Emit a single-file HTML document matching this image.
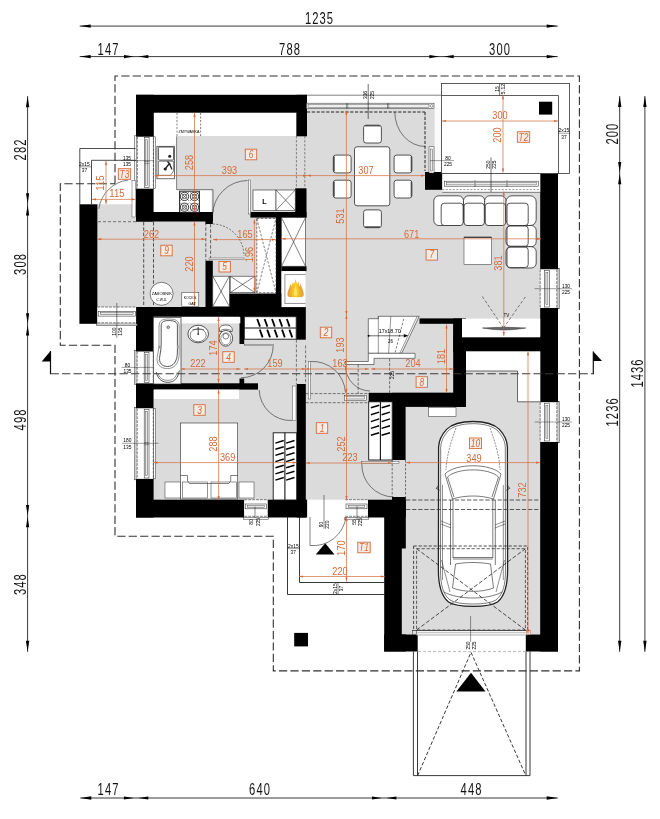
<!DOCTYPE html>
<html><head><meta charset="utf-8"><title>Floor plan</title>
<style>
html,body{margin:0;padding:0;background:#fff;}
body{width:660px;height:819px;overflow:hidden;font-family:"Liberation Sans",sans-serif;}
svg{display:block;will-change:transform;}
svg text{font-family:"Liberation Sans",sans-serif;}
</style></head><body>
<svg width="660" height="819" viewBox="0 0 660 819">
<rect x="0" y="0" width="660" height="819" fill="#fff"/>
<rect x="153.0" y="112.7" width="154.0" height="100.3" fill="#dbdbdb" />
<rect x="305.0" y="108.6" width="236.0" height="408.4" fill="#dbdbdb" />
<rect x="401.8" y="500.0" width="139.2" height="134.5" fill="#dbdbdb" />
<rect x="97.4" y="204.3" width="209.6" height="103.7" fill="#dbdbdb" />
<rect x="152.0" y="316.0" width="153.0" height="68.0" fill="#dbdbdb" />
<rect x="152.0" y="389.0" width="145.0" height="112.0" fill="#dbdbdb" />
<rect x="258.0" y="383.0" width="39.0" height="7.0" fill="#dbdbdb" />
<rect x="153.0" y="113.0" width="143.0" height="23.0" fill="#fff" />
<rect x="153.0" y="136.0" width="24.0" height="77.0" fill="#fff" />
<rect x="177.0" y="190.0" width="34.5" height="23.0" fill="#fff" />
<rect x="136.0" y="94.8" width="171.0" height="17.9" fill="#000" />
<rect x="296.4" y="94.8" width="10.6" height="41.5" fill="#000" />
<rect x="136.0" y="94.8" width="17.8" height="42.1" fill="#000" />
<rect x="136.0" y="188.5" width="17.6" height="33.0" fill="#000" />
<rect x="136.0" y="212.0" width="77.0" height="9.5" fill="#000" />
<rect x="250.4" y="212.0" width="56.1" height="5.6" fill="#000" />
<rect x="295.2" y="188.3" width="11.3" height="29.3" fill="#000" />
<rect x="79.4" y="204.3" width="18.0" height="119.5" fill="#000" />
<rect x="136.0" y="307.0" width="168.5" height="9.7" fill="#000" />
<rect x="136.0" y="307.0" width="17.3" height="45.0" fill="#000" />
<rect x="136.0" y="383.3" width="17.5" height="25.2" fill="#000" />
<rect x="136.0" y="478.4" width="17.6" height="39.1" fill="#000" />
<rect x="136.0" y="499.7" width="108.2" height="17.8" fill="#000" />
<rect x="267.6" y="499.7" width="39.7" height="17.8" fill="#000" />
<rect x="367.9" y="499.7" width="37.9" height="17.8" fill="#000" />
<rect x="296.7" y="384.0" width="9.1" height="133.5" fill="#000" />
<rect x="136.0" y="383.3" width="122.0" height="6.3" fill="#000" />
<rect x="239.5" y="316.0" width="4.7" height="28.0" fill="#000" />
<rect x="239.5" y="378.5" width="4.7" height="5.5" fill="#000" />
<rect x="296.2" y="306.7" width="9.6" height="33.0" fill="#000" />
<rect x="384.2" y="517.0" width="21.6" height="134.5" fill="#000" />
<rect x="392.3" y="392.8" width="13.3" height="67.2" fill="#000" />
<rect x="392.0" y="497.0" width="13.8" height="20.0" fill="#000" />
<rect x="368.7" y="392.8" width="97.3" height="9.4" fill="#000" />
<rect x="405.0" y="392.8" width="61.0" height="14.1" fill="#000" />
<rect x="453.2" y="318.5" width="12.8" height="88.4" fill="#000" />
<rect x="419.5" y="318.4" width="46.5" height="5.4" fill="#000" />
<rect x="453.5" y="336.4" width="104.5" height="15.1" fill="#000" />
<rect x="453.5" y="319.0" width="8.9" height="32.5" fill="#000" />
<rect x="540.2" y="173.2" width="17.8" height="96.3" fill="#000" />
<rect x="540.2" y="307.8" width="17.8" height="94.6" fill="#000" />
<rect x="540.2" y="441.8" width="17.8" height="209.7" fill="#000" />
<rect x="401.8" y="548.5" width="4.7" height="86.0" fill="#dbdbdb" />
<rect x="384.2" y="634.5" width="33.5" height="17.0" fill="#000" />
<rect x="525.8" y="634.5" width="32.2" height="17.0" fill="#000" />
<rect x="425.0" y="172.0" width="17.4" height="17.8" fill="#000" />
<rect x="276.0" y="212.0" width="5.5" height="84.4" fill="#000" />
<rect x="281.5" y="266.2" width="25.0" height="5.0" fill="#000" />
<rect x="229.3" y="293.6" width="54.9" height="13.8" fill="#000" />
<rect x="205.5" y="260.7" width="7.3" height="46.7" fill="#000" />
<rect x="205.5" y="212.0" width="7.3" height="12.0" fill="#000" />
<rect x="539.0" y="101.7" width="13.2" height="12.9" fill="#000" />
<rect x="294.2" y="632.9" width="13.8" height="13.5" fill="#000" />
<rect x="462.0" y="318.6" width="78.2" height="18.7" fill="#fff" />
<rect x="136.2" y="136.8" width="17.2" height="51.6" fill="#fff" />
<rect x="134.5" y="135.8" width="1.7" height="53.6" fill="#fff" stroke="#2c2c2c" stroke-width="0.5" />
<rect x="153.4" y="136.8" width="2.2" height="51.6" fill="#fff" stroke="#2c2c2c" stroke-width="0.5" />
<line x1="137.4" y1="136.8" x2="137.4" y2="188.4" stroke="#2c2c2c" stroke-width="0.6" stroke-dasharray="2.8,1.1"/>
<line x1="153.4" y1="136.8" x2="153.4" y2="188.4" stroke="#2c2c2c" stroke-width="0.6" stroke-dasharray="2.8,1.1"/>
<rect x="144.3" y="137.6" width="4.8" height="50.0" fill="#fff" stroke="#2c2c2c" stroke-width="0.55" />
<rect x="145.7" y="139.8" width="2.0" height="45.6" fill="#e8e8e8" stroke="#2c2c2c" stroke-width="0.4" />
<line x1="144.3" y1="161.6" x2="149.1" y2="161.6" stroke="#2c2c2c" stroke-width="0.4"/>
<line x1="144.3" y1="163.6" x2="149.1" y2="163.6" stroke="#2c2c2c" stroke-width="0.4"/>
<rect x="136.0" y="351.5" width="17.3" height="31.8" fill="#fff" />
<rect x="134.3" y="350.5" width="1.7" height="33.8" fill="#fff" stroke="#2c2c2c" stroke-width="0.5" />
<rect x="153.3" y="351.5" width="2.2" height="31.8" fill="#fff" stroke="#2c2c2c" stroke-width="0.5" />
<line x1="137.2" y1="351.5" x2="137.2" y2="383.3" stroke="#2c2c2c" stroke-width="0.6" stroke-dasharray="2.8,1.1"/>
<line x1="153.3" y1="351.5" x2="153.3" y2="383.3" stroke="#2c2c2c" stroke-width="0.6" stroke-dasharray="2.8,1.1"/>
<rect x="144.2" y="352.3" width="4.8" height="30.2" fill="#fff" stroke="#2c2c2c" stroke-width="0.55" />
<rect x="145.6" y="354.5" width="2.0" height="25.8" fill="#e8e8e8" stroke="#2c2c2c" stroke-width="0.4" />
<rect x="136.0" y="408.5" width="17.3" height="70.3" fill="#fff" />
<rect x="134.3" y="407.5" width="1.7" height="72.3" fill="#fff" stroke="#2c2c2c" stroke-width="0.5" />
<rect x="153.3" y="408.5" width="2.2" height="70.3" fill="#fff" stroke="#2c2c2c" stroke-width="0.5" />
<line x1="137.2" y1="408.5" x2="137.2" y2="478.8" stroke="#2c2c2c" stroke-width="0.6" stroke-dasharray="2.8,1.1"/>
<line x1="153.3" y1="408.5" x2="153.3" y2="478.8" stroke="#2c2c2c" stroke-width="0.6" stroke-dasharray="2.8,1.1"/>
<rect x="144.2" y="409.3" width="4.8" height="68.7" fill="#fff" stroke="#2c2c2c" stroke-width="0.55" />
<rect x="145.6" y="411.5" width="2.0" height="64.3" fill="#e8e8e8" stroke="#2c2c2c" stroke-width="0.4" />
<line x1="144.2" y1="442.6" x2="149.0" y2="442.6" stroke="#2c2c2c" stroke-width="0.4"/>
<line x1="144.2" y1="444.6" x2="149.0" y2="444.6" stroke="#2c2c2c" stroke-width="0.4"/>
<rect x="540.2" y="269.5" width="17.8" height="38.3" fill="#fff" />
<rect x="558.0" y="268.5" width="1.7" height="40.3" fill="#fff" stroke="#2c2c2c" stroke-width="0.5" />
<line x1="556.8" y1="269.5" x2="556.8" y2="307.8" stroke="#2c2c2c" stroke-width="0.6" stroke-dasharray="2.8,1.1"/>
<line x1="540.2" y1="269.5" x2="540.2" y2="307.8" stroke="#2c2c2c" stroke-width="0.6" stroke-dasharray="2.8,1.1"/>
<rect x="544.5" y="270.3" width="4.8" height="36.7" fill="#fff" stroke="#2c2c2c" stroke-width="0.55" />
<rect x="545.9" y="272.5" width="2.0" height="32.3" fill="#e8e8e8" stroke="#2c2c2c" stroke-width="0.4" />
<rect x="540.2" y="402.4" width="17.8" height="39.4" fill="#fff" />
<rect x="558.0" y="401.4" width="1.7" height="41.4" fill="#fff" stroke="#2c2c2c" stroke-width="0.5" />
<line x1="556.8" y1="402.4" x2="556.8" y2="441.8" stroke="#2c2c2c" stroke-width="0.6" stroke-dasharray="2.8,1.1"/>
<line x1="540.2" y1="402.4" x2="540.2" y2="441.8" stroke="#2c2c2c" stroke-width="0.6" stroke-dasharray="2.8,1.1"/>
<rect x="544.5" y="403.2" width="4.8" height="37.8" fill="#fff" stroke="#2c2c2c" stroke-width="0.55" />
<rect x="545.9" y="405.4" width="2.0" height="33.4" fill="#e8e8e8" stroke="#2c2c2c" stroke-width="0.4" />
<rect x="97.4" y="307.0" width="38.7" height="17.0" fill="#fff" />
<rect x="96.4" y="324.0" width="40.7" height="1.7" fill="#fff" stroke="#2c2c2c" stroke-width="0.5" />
<line x1="97.4" y1="322.8" x2="136.1" y2="322.8" stroke="#2c2c2c" stroke-width="0.6" stroke-dasharray="2.8,1.1"/>
<line x1="97.4" y1="307.0" x2="136.1" y2="307.0" stroke="#2c2c2c" stroke-width="0.6" stroke-dasharray="2.8,1.1"/>
<rect x="98.2" y="311.3" width="37.1" height="4.8" fill="#fff" stroke="#2c2c2c" stroke-width="0.55" />
<rect x="100.4" y="312.7" width="32.7" height="2.0" fill="#e8e8e8" stroke="#2c2c2c" stroke-width="0.4" />
<rect x="244.4" y="499.7" width="23.0" height="17.8" fill="#fff" />
<rect x="243.4" y="517.5" width="25.0" height="1.7" fill="#fff" stroke="#2c2c2c" stroke-width="0.5" />
<line x1="244.4" y1="516.3" x2="267.4" y2="516.3" stroke="#2c2c2c" stroke-width="0.6" stroke-dasharray="2.8,1.1"/>
<line x1="244.4" y1="499.7" x2="267.4" y2="499.7" stroke="#2c2c2c" stroke-width="0.6" stroke-dasharray="2.8,1.1"/>
<rect x="245.2" y="504.0" width="21.4" height="4.8" fill="#fff" stroke="#2c2c2c" stroke-width="0.55" />
<rect x="247.4" y="505.4" width="17.0" height="2.0" fill="#e8e8e8" stroke="#2c2c2c" stroke-width="0.4" />
<rect x="345.2" y="499.7" width="22.6" height="17.8" fill="#fff" />
<rect x="344.2" y="517.5" width="24.6" height="1.7" fill="#fff" stroke="#2c2c2c" stroke-width="0.5" />
<line x1="345.2" y1="516.3" x2="367.8" y2="516.3" stroke="#2c2c2c" stroke-width="0.6" stroke-dasharray="2.8,1.1"/>
<line x1="345.2" y1="499.7" x2="367.8" y2="499.7" stroke="#2c2c2c" stroke-width="0.6" stroke-dasharray="2.8,1.1"/>
<rect x="346.0" y="504.0" width="21.0" height="4.8" fill="#fff" stroke="#2c2c2c" stroke-width="0.55" />
<rect x="348.2" y="505.4" width="16.6" height="2.0" fill="#e8e8e8" stroke="#2c2c2c" stroke-width="0.4" />
<rect x="307.0" y="95.2" width="135.0" height="13.4" fill="#fff" />
<line x1="307.0" y1="95.2" x2="442.0" y2="95.2" stroke="#2c2c2c" stroke-width="0.6"/>
<rect x="306.4" y="103.2" width="127.6" height="5.4" fill="#fff" stroke="#2c2c2c" stroke-width="0.55" />
<rect x="308.0" y="104.6" width="121.0" height="2.6" fill="#eee" stroke="#2c2c2c" stroke-width="0.4" />
<line x1="346.6" y1="103.2" x2="346.6" y2="108.6" stroke="#2c2c2c" stroke-width="0.5"/>
<line x1="387.5" y1="103.2" x2="387.5" y2="108.6" stroke="#2c2c2c" stroke-width="0.5"/>
<line x1="347.8" y1="103.2" x2="347.8" y2="108.6" stroke="#2c2c2c" stroke-width="0.4"/>
<line x1="388.7" y1="103.2" x2="388.7" y2="108.6" stroke="#2c2c2c" stroke-width="0.4"/>
<circle cx="431.6" cy="105.9" r="1.4" fill="#fff" stroke="#2c2c2c" stroke-width="0.5"/>
<rect x="442.3" y="171.4" width="97.9" height="20.9" fill="#fff" />
<line x1="442.3" y1="171.4" x2="541.8" y2="171.4" stroke="#2c2c2c" stroke-width="0.6"/>
<line x1="442.3" y1="192.3" x2="540.2" y2="192.3" stroke="#2c2c2c" stroke-width="0.6"/>
<line x1="442.3" y1="173.4" x2="540.2" y2="173.4" stroke="#2c2c2c" stroke-width="0.5" stroke-dasharray="2,1.5"/>
<line x1="442.3" y1="189.6" x2="540.2" y2="189.6" stroke="#2c2c2c" stroke-width="0.5" stroke-dasharray="2,1.5"/>
<rect x="444.4" y="181.2" width="94.0" height="5.0" fill="#fff" stroke="#2c2c2c" stroke-width="0.55" />
<rect x="446.5" y="182.5" width="89.9" height="2.4" fill="#eee" stroke="#2c2c2c" stroke-width="0.4" />
<rect x="474.2" y="181.0" width="1.6" height="5.2" fill="#fff" stroke="#2c2c2c" stroke-width="0.4" />
<rect x="506.2" y="181.0" width="1.6" height="5.2" fill="#fff" stroke="#2c2c2c" stroke-width="0.4" />
<rect x="434.6" y="108.6" width="7.2" height="63.4" fill="#fbfbfb" />
<rect x="429.0" y="146.8" width="5.0" height="26.2" fill="#fff" stroke="#2c2c2c" stroke-width="0.5" />
<rect x="430.6" y="149.0" width="2.0" height="22.0" fill="#eee" stroke="#2c2c2c" stroke-width="0.4" />
<rect x="307.3" y="499.7" width="37.9" height="17.8" fill="#fff" />
<rect x="441.5" y="83.5" width="128.0" height="90.0" fill="#fff" stroke="#333" stroke-width="0.8" />
<path d="M441.5,95.5 H558.5 V173.5" fill="none" stroke="#333" stroke-width="0.8"/>
<rect x="539.0" y="101.7" width="13.2" height="12.9" fill="#000" />
<path d="M135.5,148.5 H79.8 V204.5" fill="none" stroke="#222" stroke-width="0.8"/>
<path d="M136,160.3 H91.5 V204.5" fill="none" stroke="#222" stroke-width="0.8"/>
<path d="M287.5,517 V594.5 H384.8" fill="none" stroke="#222" stroke-width="0.9"/>
<path d="M299.5,517 V582.5 H384.8" fill="none" stroke="#222" stroke-width="0.9"/>
<line x1="413.4" y1="651.5" x2="413.4" y2="775.6" stroke="#222" stroke-width="0.9"/>
<line x1="417.5" y1="651.5" x2="417.5" y2="775.6" stroke="#222" stroke-width="0.9"/>
<line x1="526.0" y1="651.5" x2="526.0" y2="775.6" stroke="#222" stroke-width="0.9"/>
<line x1="530.0" y1="651.5" x2="530.0" y2="775.6" stroke="#222" stroke-width="0.9"/>
<line x1="413.3" y1="775.6" x2="530.0" y2="775.6" stroke="#222" stroke-width="0.9"/>
<path d="M417.6,775.6 L471,652.3 L525.8,775.6" fill="none" stroke="#222" stroke-width="0.9" stroke-dasharray="3.6,2"/>
<line x1="418.0" y1="651.6" x2="525.6" y2="651.6" stroke="#888" stroke-width="0.6" stroke-dasharray="3,2"/>
<polygon points="456.4,691.6 485.5,691.6 471,672.7" fill="#000"/>
<polygon points="315.8,554.5 334.5,554.5 325.2,543.3" fill="#000"/>
<rect x="354.5" y="146.8" width="35.3" height="59.0" rx="2.5" fill="#fff" stroke="#2c2c2c" stroke-width="0.8"/>
<rect x="363.6" y="125.2" width="17.8" height="17.8" rx="2.5" fill="#fff" stroke="#2c2c2c" stroke-width="0.8"/>
<line x1="365.1" y1="125.8" x2="379.9" y2="125.8" stroke="#444" stroke-width="1.2"/>
<rect x="363.6" y="209.9" width="17.8" height="17.8" rx="2.5" fill="#fff" stroke="#2c2c2c" stroke-width="0.8"/>
<line x1="365.1" y1="227.1" x2="379.9" y2="227.1" stroke="#444" stroke-width="1.6"/>
<rect x="333.3" y="155.1" width="17.8" height="17.8" rx="2.5" fill="#fff" stroke="#2c2c2c" stroke-width="0.8"/>
<line x1="333.9" y1="156.6" x2="333.9" y2="171.4" stroke="#444" stroke-width="1.6"/>
<rect x="333.3" y="180.2" width="17.8" height="17.8" rx="2.5" fill="#fff" stroke="#2c2c2c" stroke-width="0.8"/>
<line x1="333.9" y1="181.7" x2="333.9" y2="196.5" stroke="#444" stroke-width="1.6"/>
<rect x="394.1" y="155.1" width="17.8" height="17.8" rx="2.5" fill="#fff" stroke="#2c2c2c" stroke-width="0.8"/>
<line x1="411.3" y1="156.6" x2="411.3" y2="171.4" stroke="#444" stroke-width="1.2"/>
<rect x="394.1" y="180.2" width="17.8" height="17.8" rx="2.5" fill="#fff" stroke="#2c2c2c" stroke-width="0.8"/>
<line x1="411.3" y1="181.7" x2="411.3" y2="196.5" stroke="#444" stroke-width="1.2"/>
<rect x="433.8" y="195.8" width="29.7" height="29.7" rx="5" fill="#fff" stroke="#2c2c2c" stroke-width="0.8"/>
<rect x="441.2" y="203.2" width="21.9" height="22.3" rx="3" fill="#fff" stroke="#2c2c2c" stroke-width="0.8"/>
<rect x="463.5" y="195.8" width="21.2" height="29.7" rx="5" fill="#fff" stroke="#2c2c2c" stroke-width="0.8"/>
<rect x="464.1" y="203.2" width="20.2" height="22.3" rx="3" fill="#fff" stroke="#2c2c2c" stroke-width="0.8"/>
<rect x="484.7" y="195.8" width="21.3" height="29.7" rx="5" fill="#fff" stroke="#2c2c2c" stroke-width="0.8"/>
<rect x="485.3" y="203.2" width="20.3" height="22.3" rx="3" fill="#fff" stroke="#2c2c2c" stroke-width="0.8"/>
<rect x="506.0" y="195.8" width="30.2" height="29.7" rx="6" fill="#fff" stroke="#2c2c2c" stroke-width="0.8"/>
<rect x="507.0" y="203.2" width="21.2" height="22.3" rx="3" fill="#fff" stroke="#2c2c2c" stroke-width="0.8"/>
<rect x="506.0" y="225.5" width="30.2" height="21.2" rx="5" fill="#fff" stroke="#2c2c2c" stroke-width="0.8"/>
<rect x="507.0" y="226.0" width="21.2" height="20.2" rx="3" fill="#fff" stroke="#2c2c2c" stroke-width="0.8"/>
<rect x="506.0" y="246.7" width="30.2" height="21.3" rx="5" fill="#fff" stroke="#2c2c2c" stroke-width="0.8"/>
<rect x="507.0" y="247.2" width="21.2" height="20.3" rx="3" fill="#fff" stroke="#2c2c2c" stroke-width="0.8"/>
<rect x="464.0" y="237.0" width="27.5" height="27.3" fill="#fff" stroke="#2c2c2c" stroke-width="0.5" />
<line x1="464.0" y1="237.4" x2="491.5" y2="237.4" stroke="#222" stroke-width="0.9"/>
<rect x="154.0" y="389.6" width="85.0" height="9.4" fill="#fff" />
<rect x="165.0" y="482.0" width="15.5" height="16.0" fill="#fff" stroke="#2c2c2c" stroke-width="0.5" />
<rect x="239.0" y="482.0" width="15.0" height="16.0" fill="#fff" stroke="#2c2c2c" stroke-width="0.5" />
<rect x="180.5" y="423.0" width="57.2" height="76.0" fill="#fff" stroke="#2c2c2c" stroke-width="0.6" />
<rect x="182.4" y="482.0" width="25.3" height="16.0" fill="#fff" stroke="#2c2c2c" stroke-width="0.5" />
<rect x="211.0" y="482.0" width="25.4" height="16.0" fill="#fff" stroke="#2c2c2c" stroke-width="0.5" />
<path d="M180.5,475.5 H187.5 V481 L189.5,483.5 H228.7 L230.7,481 V475.5 H237.7" fill="none" stroke="#2c2c2c" stroke-width="0.6"/>
<rect x="181.0" y="317.0" width="59.3" height="6.4" fill="#fff" />
<rect x="153.3" y="317.3" width="27.7" height="66.7" fill="#fff" stroke="#2c2c2c" stroke-width="0.7" />
<path d="M161.2,326 C161.2,321.5 164,320.6 168.5,320.6 C174,320.6 177.4,321.5 177.4,326 L177.4,352 C177.4,362 173,366.5 167.5,366.5 C162,366.5 158.5,363 159.8,356 C160.6,352 161.2,348 161.2,344 Z" fill="#fff" stroke="#2c2c2c" stroke-width="0.8"/>
<path d="M159,327 C159,320.5 162,319 168.5,319 C176,319 179.2,320.5 179.2,327 L179.2,353 C179.2,364 174,368.6 167.5,368.6 C160,368.6 155.8,364 157.3,356 C158.3,352 159,348 159,344 Z" fill="none" stroke="#2c2c2c" stroke-width="0.5"/>
<path d="M156.2,372 C158,380 163,382.3 168,382.3 C173.5,382.3 178,379 179.3,370.5" fill="none" stroke="#2c2c2c" stroke-width="0.8"/>
<path d="M158.2,374 C160,379 164,380.3 168,380.3 C172.5,380.3 176,378 177.3,372" fill="none" stroke="#2c2c2c" stroke-width="0.5"/>
<circle cx="168.2" cy="327.2" r="1.3" fill="#ccc" stroke="#2c2c2c" stroke-width="0.6"/>
<rect x="158.6" y="345.5" width="1.8" height="3.0" fill="#999" />
<rect x="177.0" y="345.5" width="1.8" height="3.0" fill="#999" />
<ellipse cx="198.2" cy="334" rx="10.3" ry="8.8" fill="#fff" stroke="#2c2c2c" stroke-width="0.8"/>
<ellipse cx="198.2" cy="335.2" rx="8" ry="6.5" fill="#fff" stroke="#2c2c2c" stroke-width="0.6"/>
<path d="M198.2,327 V333" fill="none" stroke="#2c2c2c" stroke-width="0.9"/>
<circle cx="198.2" cy="334" r="0.9" fill="#2c2c2c"/>
<path d="M192.5,329.5 H204" fill="none" stroke="#2c2c2c" stroke-width="0.5"/>
<path d="M219.4,331.5 C219,327 221,325 225.8,325 C230.6,325 232.6,327 232.2,331.5 Z" fill="#fff" stroke="#2c2c2c" stroke-width="0.7"/>
<ellipse cx="225.8" cy="338.3" rx="6.8" ry="7.9" fill="#fff" stroke="#2c2c2c" stroke-width="0.8"/>
<ellipse cx="225.8" cy="338.8" rx="5" ry="6" fill="#fff" stroke="#2c2c2c" stroke-width="0.5"/>
<circle cx="225.8" cy="336.2" r="2.8" fill="#fff" stroke="#2c2c2c" stroke-width="0.6"/>
<path d="M220.5,330.5 C223,328.8 228.5,328.8 231,330.5" fill="none" stroke="#2c2c2c" stroke-width="0.6"/>
<rect x="273.2" y="432.8" width="23.5" height="67.2" fill="#fff" stroke="#111" stroke-width="0.9" />
<line x1="284.9" y1="432.8" x2="284.9" y2="500.0" stroke="#111" stroke-width="1.1"/>
<line x1="275.4" y1="443.1" x2="283.8" y2="440.5" stroke="#000" stroke-width="1.5"/>
<line x1="286.1" y1="443.1" x2="294.5" y2="440.5" stroke="#000" stroke-width="1.5"/>
<line x1="275.4" y1="449.3" x2="283.8" y2="446.7" stroke="#000" stroke-width="1.5"/>
<line x1="286.1" y1="449.3" x2="294.5" y2="446.7" stroke="#000" stroke-width="1.5"/>
<line x1="275.4" y1="455.4" x2="283.8" y2="452.8" stroke="#000" stroke-width="1.5"/>
<line x1="286.1" y1="455.4" x2="294.5" y2="452.8" stroke="#000" stroke-width="1.5"/>
<line x1="275.4" y1="461.6" x2="283.8" y2="459.0" stroke="#000" stroke-width="1.5"/>
<line x1="286.1" y1="461.6" x2="294.5" y2="459.0" stroke="#000" stroke-width="1.5"/>
<line x1="275.4" y1="467.8" x2="283.8" y2="465.2" stroke="#000" stroke-width="1.5"/>
<line x1="286.1" y1="467.8" x2="294.5" y2="465.2" stroke="#000" stroke-width="1.5"/>
<line x1="275.4" y1="473.9" x2="283.8" y2="471.3" stroke="#000" stroke-width="1.5"/>
<line x1="286.1" y1="473.9" x2="294.5" y2="471.3" stroke="#000" stroke-width="1.5"/>
<line x1="275.4" y1="480.1" x2="283.8" y2="477.5" stroke="#000" stroke-width="1.5"/>
<line x1="286.1" y1="480.1" x2="294.5" y2="477.5" stroke="#000" stroke-width="1.5"/>
<rect x="368.7" y="401.8" width="23.5" height="58.2" fill="#fff" stroke="#111" stroke-width="0.9" />
<line x1="380.4" y1="401.8" x2="380.4" y2="460.0" stroke="#111" stroke-width="1.1"/>
<line x1="370.9" y1="407.8" x2="379.2" y2="405.2" stroke="#000" stroke-width="1.5"/>
<line x1="381.6" y1="407.8" x2="390.0" y2="405.2" stroke="#000" stroke-width="1.5"/>
<line x1="370.9" y1="414.7" x2="379.2" y2="412.1" stroke="#000" stroke-width="1.5"/>
<line x1="381.6" y1="414.7" x2="390.0" y2="412.1" stroke="#000" stroke-width="1.5"/>
<line x1="370.9" y1="421.6" x2="379.2" y2="418.9" stroke="#000" stroke-width="1.5"/>
<line x1="381.6" y1="421.6" x2="390.0" y2="418.9" stroke="#000" stroke-width="1.5"/>
<line x1="370.9" y1="428.4" x2="379.2" y2="425.8" stroke="#000" stroke-width="1.5"/>
<line x1="381.6" y1="428.4" x2="390.0" y2="425.8" stroke="#000" stroke-width="1.5"/>
<line x1="370.9" y1="435.3" x2="379.2" y2="432.7" stroke="#000" stroke-width="1.5"/>
<line x1="381.6" y1="435.3" x2="390.0" y2="432.7" stroke="#000" stroke-width="1.5"/>
<rect x="244.3" y="316.7" width="51.9" height="22.5" fill="#fff" stroke="#111" stroke-width="0.9" />
<line x1="244.3" y1="328.0" x2="296.2" y2="328.0" stroke="#111" stroke-width="1.0"/>
<line x1="257.2" y1="319.0" x2="260.0" y2="326.6" stroke="#000" stroke-width="1.8"/>
<line x1="259.8" y1="329.6" x2="262.6" y2="337.4" stroke="#000" stroke-width="1.8"/>
<line x1="264.6" y1="319.0" x2="267.4" y2="326.6" stroke="#000" stroke-width="1.8"/>
<line x1="267.2" y1="329.6" x2="270.0" y2="337.4" stroke="#000" stroke-width="1.8"/>
<line x1="272.0" y1="319.0" x2="274.8" y2="326.6" stroke="#000" stroke-width="1.8"/>
<line x1="274.6" y1="329.6" x2="277.4" y2="337.4" stroke="#000" stroke-width="1.8"/>
<line x1="279.4" y1="319.0" x2="282.2" y2="326.6" stroke="#000" stroke-width="1.8"/>
<line x1="282.0" y1="329.6" x2="284.8" y2="337.4" stroke="#000" stroke-width="1.8"/>
<line x1="286.8" y1="319.0" x2="289.6" y2="326.6" stroke="#000" stroke-width="1.8"/>
<line x1="289.4" y1="329.6" x2="292.2" y2="337.4" stroke="#000" stroke-width="1.8"/>
<line x1="296.4" y1="339.7" x2="296.4" y2="384.0" stroke="#2c2c2c" stroke-width="0.6" stroke-dasharray="3,1.8"/>
<line x1="305.6" y1="345.5" x2="305.6" y2="384.0" stroke="#2c2c2c" stroke-width="0.6" stroke-dasharray="3,1.8"/>
<line x1="176.6" y1="136.3" x2="176.6" y2="189.7" stroke="#2c2c2c" stroke-width="0.6"/>
<line x1="176.6" y1="189.7" x2="213.0" y2="189.7" stroke="#2c2c2c" stroke-width="0.6"/>
<line x1="213.0" y1="189.7" x2="213.0" y2="212.0" stroke="#2c2c2c" stroke-width="0.6"/>
<rect x="179.6" y="191.2" width="19.8" height="21.2" fill="#fff" stroke="#111" stroke-width="0.9" />
<circle cx="184.5" cy="196.4" r="4.1" fill="none" stroke="#111" stroke-width="0.8"/>
<circle cx="184.5" cy="196.4" r="2.2" fill="none" stroke="#111" stroke-width="0.6"/>
<line x1="180.0" y1="191.9" x2="189.0" y2="200.9" stroke="#111" stroke-width="0.5"/>
<line x1="180.0" y1="200.9" x2="189.0" y2="191.9" stroke="#111" stroke-width="0.5"/>
<circle cx="194.5" cy="196.4" r="4.1" fill="none" stroke="#111" stroke-width="0.8"/>
<circle cx="194.5" cy="196.4" r="2.2" fill="none" stroke="#111" stroke-width="0.6"/>
<line x1="190.0" y1="191.9" x2="199.0" y2="200.9" stroke="#111" stroke-width="0.5"/>
<line x1="190.0" y1="200.9" x2="199.0" y2="191.9" stroke="#111" stroke-width="0.5"/>
<circle cx="184.5" cy="207.2" r="4.1" fill="none" stroke="#111" stroke-width="0.8"/>
<circle cx="184.5" cy="207.2" r="2.2" fill="none" stroke="#111" stroke-width="0.6"/>
<line x1="180.0" y1="202.7" x2="189.0" y2="211.7" stroke="#111" stroke-width="0.5"/>
<line x1="180.0" y1="211.7" x2="189.0" y2="202.7" stroke="#111" stroke-width="0.5"/>
<circle cx="194.5" cy="207.2" r="4.1" fill="none" stroke="#111" stroke-width="0.8"/>
<circle cx="194.5" cy="207.2" r="2.2" fill="none" stroke="#111" stroke-width="0.6"/>
<line x1="190.0" y1="202.7" x2="199.0" y2="211.7" stroke="#111" stroke-width="0.5"/>
<line x1="190.0" y1="211.7" x2="199.0" y2="202.7" stroke="#111" stroke-width="0.5"/>
<rect x="156.9" y="146.3" width="17.7" height="32.5" fill="#fff" stroke="#2c2c2c" stroke-width="0.7" />
<rect x="158.4" y="147.0" width="15.2" height="13.1" rx="1.2" fill="#fff" stroke="#2c2c2c" stroke-width="0.8"/>
<path d="M158.4,161.2 H173.6 V171 L170.5,175.3 H158.4 Z" fill="#fff" stroke="#2c2c2c" stroke-width="0.6"/>
<circle cx="169.7" cy="156.2" r="1.5" fill="#222"/>
<circle cx="165.2" cy="169" r="1.6" fill="#222"/>
<path d="M165.2,169 L169.3,163.5 M169.3,163.5 L172,169.5 M167.5,161.5 L170.5,164.8" fill="none" stroke="#222" stroke-width="1.3"/>
<line x1="177.0" y1="113.0" x2="177.0" y2="136.0" stroke="#2c2c2c" stroke-width="0.6" stroke-dasharray="2,1.5"/>
<line x1="200.6" y1="113.0" x2="200.6" y2="136.0" stroke="#2c2c2c" stroke-width="0.6" stroke-dasharray="2,1.5"/>
<line x1="296.4" y1="136.0" x2="296.4" y2="188.3" stroke="#2c2c2c" stroke-width="0.5" stroke-dasharray="2.5,1.5"/>
<line x1="304.8" y1="136.0" x2="304.8" y2="188.3" stroke="#2c2c2c" stroke-width="0.5" stroke-dasharray="2.5,1.5"/>
<line x1="143.7" y1="222.0" x2="143.7" y2="306.5" stroke="#2c2c2c" stroke-width="0.8" stroke-dasharray="3.5,1.8"/>
<line x1="153.5" y1="222.0" x2="153.5" y2="306.5" stroke="#2c2c2c" stroke-width="0.8" stroke-dasharray="3.5,1.8"/>
<line x1="205.8" y1="222.0" x2="205.8" y2="260.5" stroke="#2c2c2c" stroke-width="0.7" stroke-dasharray="3.5,1.8"/>
<line x1="210.6" y1="224.0" x2="210.6" y2="258.0" stroke="#2c2c2c" stroke-width="0.7" stroke-dasharray="3.5,1.8"/>
<rect x="253.0" y="190.0" width="23.0" height="20.3" fill="#fff" stroke="#2c2c2c" stroke-width="0.6" />
<text x="264.3" y="204.0" font-size="7" fill="#000" text-anchor="middle" font-weight="bold">L</text>
<rect x="276.0" y="190.0" width="19.2" height="20.3" fill="#fff" stroke="#2c2c2c" stroke-width="0.6" />
<line x1="276.0" y1="190.0" x2="295.2" y2="210.3" stroke="#2c2c2c" stroke-width="0.6"/>
<line x1="276.0" y1="210.3" x2="295.2" y2="190.0" stroke="#2c2c2c" stroke-width="0.6"/>
<rect x="281.5" y="217.6" width="24.0" height="48.6" fill="#fff" stroke="#2c2c2c" stroke-width="0.6" />
<line x1="281.5" y1="217.6" x2="305.5" y2="266.2" stroke="#2c2c2c" stroke-width="0.6"/>
<line x1="281.5" y1="266.2" x2="305.5" y2="217.6" stroke="#2c2c2c" stroke-width="0.6"/>
<rect x="256.8" y="218.5" width="19.2" height="74.2" fill="#fff" stroke="#2c2c2c" stroke-width="0.6" stroke-dasharray="2.5,1.5"/>
<line x1="256.8" y1="218.5" x2="276.0" y2="292.7" stroke="#2c2c2c" stroke-width="0.6" stroke-dasharray="2.5,1.5"/>
<line x1="256.8" y1="292.7" x2="276.0" y2="218.5" stroke="#2c2c2c" stroke-width="0.6" stroke-dasharray="2.5,1.5"/>
<rect x="230.2" y="276.2" width="24.8" height="16.5" fill="#fff" stroke="#2c2c2c" stroke-width="0.6" />
<line x1="230.2" y1="276.2" x2="255.0" y2="292.7" stroke="#2c2c2c" stroke-width="0.6"/>
<line x1="230.2" y1="292.7" x2="255.0" y2="276.2" stroke="#2c2c2c" stroke-width="0.6"/>
<rect x="212.8" y="276.2" width="16.5" height="30.2" fill="#fff" stroke="#2c2c2c" stroke-width="0.6" />
<line x1="212.8" y1="276.2" x2="229.3" y2="306.4" stroke="#2c2c2c" stroke-width="0.6"/>
<line x1="212.8" y1="306.4" x2="229.3" y2="276.2" stroke="#2c2c2c" stroke-width="0.6"/>
<rect x="281.5" y="271.1" width="24.0" height="36.0" fill="#fff" />
<rect x="284.9" y="274.6" width="21.6" height="28.8" fill="#fff" stroke="#8a8a8a" stroke-width="0.9" />
<rect x="305.5" y="273.0" width="2.5" height="32.0" fill="#dbdbdb" />
<path d="M290.6,284 C291.72,287.96 293.8,291.26 293.8,294.296 C293.8,296.59999999999997 292.20000000000005,297.2 290.6,297.2 C289.0,297.2 287.40000000000003,296.59999999999997 287.40000000000003,294.296 C287.40000000000003,291.26 289.48,287.96 290.6,284 Z" fill="#e6a23c" stroke="none" stroke-width="0.6"/>
<path d="M300.6,284 C301.72,287.96 303.8,291.26 303.8,294.296 C303.8,296.59999999999997 302.20000000000005,297.2 300.6,297.2 C299.0,297.2 297.40000000000003,296.59999999999997 297.40000000000003,294.296 C297.40000000000003,291.26 299.48,287.96 300.6,284 Z" fill="#e6a23c" stroke="none" stroke-width="0.6"/>
<path d="M293,281.5 C294.12,286.21 296.2,290.135 296.2,293.746 C296.2,296.59999999999997 294.6,297.2 293,297.2 C291.4,297.2 289.8,296.59999999999997 289.8,293.746 C289.8,290.135 291.88,286.21 293,281.5 Z" fill="#efb32c" stroke="none" stroke-width="0.6"/>
<path d="M298.2,281.5 C299.32,286.21 301.4,290.135 301.4,293.746 C301.4,296.59999999999997 299.8,297.2 298.2,297.2 C296.59999999999997,297.2 295.0,296.59999999999997 295.0,293.746 C295.0,290.135 297.08,286.21 298.2,281.5 Z" fill="#efb32c" stroke="none" stroke-width="0.6"/>
<path d="M295.6,278.9 C296.86,284.39 299.20000000000005,288.965 299.20000000000005,293.174 C299.20000000000005,296.59999999999997 297.40000000000003,297.2 295.6,297.2 C293.8,297.2 292.0,296.59999999999997 292.0,293.174 C292.0,288.965 294.34000000000003,284.39 295.6,278.9 Z" fill="#f7c820" stroke="none" stroke-width="0.6"/>
<path d="M295.6,285 C296.23,288.3 297.40000000000003,291.05 297.40000000000003,293.58 C297.40000000000003,295.4 296.5,296 295.6,296 C294.70000000000005,296 293.8,295.4 293.8,293.58 C293.8,291.05 294.97,288.3 295.6,285 Z" fill="#fbe070" stroke="none" stroke-width="0.6"/>
<circle cx="161.6" cy="293.8" r="11.5" fill="#fff" stroke="#2c2c2c" stroke-width="0.6"/>
<rect x="181.8" y="292.4" width="17.0" height="14.1" fill="#fff" stroke="#2c2c2c" stroke-width="0.5" />
<polygon points="368.3,318.7 378.3,318.7 378.3,316.3 419.2,316.3 401.7,353.3 368.3,353.3" fill="#fff" stroke="#2c2c2c" stroke-width="0.6"/>
<polygon points="368.3,353.3 415,353.3 415,358.3 374,358.3 374,364.5 345,364.5 345,361.5 368.3,361.5" fill="#fff" stroke="#2c2c2c" stroke-width="0.6"/>
<line x1="378.3" y1="316.3" x2="378.3" y2="353.3" stroke="#2c2c2c" stroke-width="0.5"/>
<line x1="390.8" y1="316.3" x2="388.6" y2="353.3" stroke="#2c2c2c" stroke-width="0.5"/>
<line x1="403.7" y1="319.0" x2="395.0" y2="353.3" stroke="#2c2c2c" stroke-width="0.6" stroke-dasharray="2.5,1.5"/>
<line x1="417.2" y1="316.3" x2="399.8" y2="353.3" stroke="#2c2c2c" stroke-width="0.5"/>
<line x1="368.3" y1="335.8" x2="405.0" y2="335.8" stroke="#000" stroke-width="0.6"/>
<circle cx="368.6" cy="335.8" r="1" fill="#000"/>
<polygon points="408.3,335.8 403.8,334.1 403.8,337.5" fill="#000"/>
<line x1="305.8" y1="393.6" x2="369.0" y2="393.6" stroke="#2c2c2c" stroke-width="0.6" stroke-dasharray="3,1.5"/>
<line x1="305.8" y1="402.7" x2="369.0" y2="402.7" stroke="#2c2c2c" stroke-width="0.6" stroke-dasharray="3,1.5"/>
<line x1="358.2" y1="364.5" x2="358.2" y2="393.6" stroke="#2c2c2c" stroke-width="0.6" stroke-dasharray="3,1.5"/>
<line x1="389.6" y1="358.6" x2="389.6" y2="393.0" stroke="#2c2c2c" stroke-width="0.6" stroke-dasharray="3,1.5"/>
<rect x="344.5" y="395.5" width="21.9" height="4.7" fill="#fff" stroke="#2c2c2c" stroke-width="0.5" />
<rect x="346.5" y="396.8" width="17.9" height="2.2" fill="#eee" stroke="#2c2c2c" stroke-width="0.4" />
<rect x="428.7" y="407.4" width="27.3" height="9.0" fill="#fff" stroke="#2c2c2c" stroke-width="0.5" />
<polygon points="466,351.5 540.2,351.5 540.2,401.8 517.5,401.8 517.5,371 466,371" fill="#fff"/>
<path d="M466,371 H517.5 V401.8 H540.2" fill="none" stroke="#2c2c2c" stroke-width="0.7"/>
<path d="M482.5,328 Q504,326.4 525.8,328 Q504,332 482.5,328 Z" fill="#666" stroke="#333" stroke-width="0.5"/>
<text x="506.5" y="316.5" font-size="4.5" fill="#000" text-anchor="middle" >TV</text>
<path d="M503.5,328 L482,296 M503.5,328 L526,296" fill="none" stroke="#2c2c2c" stroke-width="0.6" stroke-dasharray="3,2"/>
<path d="M438.6,447 C438.8,441 440.5,436 446.6,429.4 C452,424 462,421.5 473,421.5 C484,421.5 494,424 499.4,429.4 C505.5,436 507.2,441 507.4,447 L507.6,570 C507.6,586 505,596 497.5,602 C489,607.8 457,607.8 448.5,602 C441,596 438.4,586 438.4,570 Z" fill="#fff" stroke="#222" stroke-width="1.3"/>
<path d="M440.7,448 C440.9,442 442.5,437.5 448,431 C453,426 462.5,423.7 473,423.7 C483.5,423.7 493,426 498,431 C503.5,437.5 505.1,442 505.3,448 L505.5,570 C505.5,585 503,594.5 496,600 C488,605.4 458,605.4 450,600 C443,594.5 440.5,585 440.5,570 Z" fill="none" stroke="#222" stroke-width="0.6"/>
<path d="M456,428 C450,444 446.5,458 446,470 M490,428 C496,444 499.5,458 500,470" fill="none" stroke="#222" stroke-width="0.5" stroke-dasharray="2,1"/>
<path d="M445,474 C455,463 491,463 501,474 M447.5,477 C457,467.5 489,467.5 498.5,477" fill="none" stroke="#222" stroke-width="0.6"/>
<path d="M445,474 L452.5,499 M501,474 L493.5,499 M447.5,477 L454,497 M498.5,477 L492,497" fill="none" stroke="#222" stroke-width="0.6"/>
<path d="M452.5,499 C465,495 481,495 493.5,499" fill="none" stroke="#222" stroke-width="0.6"/>
<path d="M439,485 L436.3,488.4 L439.6,490.2 M507,485 L509.7,488.4 L506.4,490.2" fill="none" stroke="#222" stroke-width="0.8"/>
<path d="M453,499 V558 M492.8,499 V558 M450.5,500 V565 M495.3,500 V565" fill="none" stroke="#222" stroke-width="0.6"/>
<path d="M453,557.5 H492.8 M453,559 H492.8" fill="none" stroke="#222" stroke-width="0.6"/>
<path d="M455.5,564 C466,562 480,562 490.5,564 L493.5,588 C482,592.5 464,592.5 452.5,588 Z" fill="none" stroke="#222" stroke-width="0.6"/>
<path d="M441,521 L451,525 M441,524 L451,528 M505,521 L495,525 M505,524 L495,528" fill="none" stroke="#222" stroke-width="0.5"/>
<path d="M441.5,560 L450,592 M504.5,560 L496,592" fill="none" stroke="#222" stroke-width="0.5"/>
<path d="M444,592 C458,600 488,600 502,592" fill="none" stroke="#222" stroke-width="0.6"/>
<path d="M442.5,485 V580 M503.3,485 V580" fill="none" stroke="#222" stroke-width="0.5"/>
<rect x="413.6" y="546.0" width="114.0" height="85.0" fill="none" stroke="#222" stroke-width="0.8" stroke-dasharray="3.2,1.8"/>
<rect x="416.6" y="548.7" width="108.8" height="81.3" fill="none" stroke="#222" stroke-width="0.7" stroke-dasharray="3.2,1.8"/>
<line x1="416.6" y1="548.7" x2="525.4" y2="630.0" stroke="#222" stroke-width="0.8" stroke-dasharray="4,2"/>
<line x1="416.6" y1="630.0" x2="525.4" y2="548.7" stroke="#222" stroke-width="0.8" stroke-dasharray="4,2"/>
<rect x="416.5" y="630.5" width="110.0" height="4.7" fill="#f4f4f4" />
<line x1="412.3" y1="630.5" x2="530.0" y2="630.5" stroke="#2c2c2c" stroke-width="0.8"/>
<line x1="416.5" y1="632.6" x2="526.5" y2="632.6" stroke="#777" stroke-width="0.4"/>
<line x1="416.5" y1="635.0" x2="526.5" y2="635.0" stroke="#777" stroke-width="0.5"/>
<rect x="412.3" y="630.5" width="4.1" height="4.0" fill="#ddd" stroke="#2c2c2c" stroke-width="0.5" />
<rect x="526.5" y="630.5" width="4.1" height="4.0" fill="#ddd" stroke="#d46a3a" stroke-width="0.5" />
<line x1="470.6" y1="616.0" x2="470.6" y2="641.8" stroke="#2c2c2c" stroke-width="0.5"/>
<line x1="406.0" y1="500.0" x2="540.0" y2="500.0" stroke="#333" stroke-width="0.8" stroke-dasharray="4.3,1.8"/>
<line x1="406.0" y1="509.5" x2="540.0" y2="509.5" stroke="#333" stroke-width="0.8" stroke-dasharray="4.3,1.8"/>
<path d="M128.3,180 A34,34 0 0 0 98.8,208.8" fill="none" stroke="#2c2c2c" stroke-width="0.6"/>
<rect x="132.0" y="180.5" width="3.5" height="36.5" fill="#fff" stroke="#2c2c2c" stroke-width="0.4" />
<path d="M247.5,180.5 A35.2,35.2 0 0 0 212.6,215.2" fill="none" stroke="#2c2c2c" stroke-width="0.6"/>
<rect x="248.5" y="180.0" width="1.9" height="34.0" fill="#fff" stroke="#2c2c2c" stroke-width="0.4" />
<path d="M212.8,224 A32,32 0 0 1 244,256" fill="none" stroke="#2c2c2c" stroke-width="0.6" stroke-dasharray="2,1.5"/>
<rect x="209.0" y="258.0" width="35.0" height="1.7" fill="#fff" stroke="#2c2c2c" stroke-width="0.4" />
<path d="M273.2,345.4 A32.5,32.5 0 0 1 241,377.8" fill="none" stroke="#2c2c2c" stroke-width="0.6"/>
<rect x="244.2" y="344.4" width="29.0" height="1.4" fill="#fff" stroke="#2c2c2c" stroke-width="0.4" />
<path d="M259.2,390 A31.5,31.5 0 0 0 292,420.5" fill="none" stroke="#2c2c2c" stroke-width="0.6"/>
<rect x="292.5" y="386.0" width="3.5" height="34.5" fill="#fff" stroke="#2c2c2c" stroke-width="0.4" />
<path d="M310.4,361.5 A33,33 0 0 1 345.5,392.7" fill="none" stroke="#2c2c2c" stroke-width="0.6"/>
<rect x="308.2" y="361.5" width="2.2" height="37.5" fill="#fff" stroke="#2c2c2c" stroke-width="0.4" />
<path d="M345.5,366 A25,25 0 0 0 370,391" fill="none" stroke="#2c2c2c" stroke-width="0.6"/>
<path d="M361.8,463.6 A32.5,32.5 0 0 0 393.6,497" fill="none" stroke="#2c2c2c" stroke-width="0.6"/>
<rect x="361.8" y="461.5" width="37.2" height="2.1" fill="#fff" stroke="#2c2c2c" stroke-width="0.4" />
<line x1="392.2" y1="460.0" x2="392.2" y2="497.0" stroke="#2c2c2c" stroke-width="0.6" stroke-dasharray="2.5,1.5"/>
<line x1="405.5" y1="460.0" x2="405.5" y2="497.0" stroke="#2c2c2c" stroke-width="0.6" stroke-dasharray="2.5,1.5"/>
<path d="M346,517 A33,33 0 0 1 310,545.5" fill="none" stroke="#2c2c2c" stroke-width="0.6"/>
<line x1="310.0" y1="517.0" x2="310.0" y2="545.5" stroke="#2c2c2c" stroke-width="0.6"/>
<path d="M394.8,112 A30.7,34.5 0 0 0 425.5,146.5" fill="none" stroke="#2c2c2c" stroke-width="0.6"/>
<line x1="307.0" y1="112.0" x2="425.0" y2="112.0" stroke="#222" stroke-width="1.0" stroke-dasharray="3.2,1.6"/>
<line x1="425.0" y1="112.0" x2="425.0" y2="171.0" stroke="#222" stroke-width="1.0" stroke-dasharray="3.2,1.6"/>
<line x1="98.0" y1="221.7" x2="136.0" y2="221.7" stroke="#2c2c2c" stroke-width="0.6" stroke-dasharray="3,2"/>
<path d="M115,183.7 V76 H579.4 V670.9 H273.3 V536.2 H115 V345.2 H60.3 V183.7 H115" fill="none" stroke="#303030" stroke-width="1.1" stroke-dasharray="8.2,3.2"/>
<path d="M50.5,351 V374.2" fill="none" stroke="#111" stroke-width="1.2"/>
<polygon points="50.5,351 50.5,361.4 41.7,361.4" fill="#000"/>
<path d="M593.3,351.5 V374.2" fill="none" stroke="#111" stroke-width="1.2"/>
<polygon points="593.3,351.5 593.3,361 602,361" fill="#000"/>
<line x1="50.5" y1="373.7" x2="593.3" y2="373.7" stroke="#3a3a3a" stroke-width="1.1" stroke-dasharray="8.3,3.2"/>
<line x1="154.5" y1="175.6" x2="307.0" y2="175.6" stroke="#d46a3a" stroke-width="0.7"/>
<polygon points="154.5,175.6 158.5,174.5 158.5,176.7" fill="#d46a3a"/>
<polygon points="307.0,175.6 303.0,174.5 303.0,176.7" fill="#d46a3a"/>
<text x="229.5" y="173.5" font-size="10.8" fill="#d46a3a" text-anchor="middle" textLength="15.3" lengthAdjust="spacingAndGlyphs" >393</text>
<line x1="194.5" y1="113.0" x2="194.5" y2="211.8" stroke="#d46a3a" stroke-width="0.7"/>
<polygon points="194.5,113.0 193.4,117.0 195.6,117.0" fill="#d46a3a"/>
<polygon points="194.5,211.8 193.4,207.8 195.6,207.8" fill="#d46a3a"/>
<text x="192.5" y="162.5" font-size="10.8" fill="#d46a3a" text-anchor="middle" transform="rotate(-90 192.5 162.5)" textLength="15.3" lengthAdjust="spacingAndGlyphs" >258</text>
<rect x="245.3" y="149.2" width="11.4" height="10.6" fill="#f6ebe5" stroke="#d46a3a" stroke-width="0.9" />
<text transform="translate(251.0 158.1) scale(0.8 1)" font-size="10.5" fill="#d46a3a" text-anchor="middle" font-style="italic">6</text>
<line x1="97.4" y1="239.2" x2="205.5" y2="239.2" stroke="#d46a3a" stroke-width="0.7"/>
<polygon points="97.4,239.2 101.4,238.1 101.4,240.3" fill="#d46a3a"/>
<polygon points="205.5,239.2 201.5,238.1 201.5,240.3" fill="#d46a3a"/>
<text x="151.5" y="237.6" font-size="10.8" fill="#d46a3a" text-anchor="middle" textLength="15.3" lengthAdjust="spacingAndGlyphs" >262</text>
<line x1="194.5" y1="221.5" x2="194.5" y2="306.5" stroke="#d46a3a" stroke-width="0.7"/>
<polygon points="194.5,221.5 193.4,225.5 195.6,225.5" fill="#d46a3a"/>
<polygon points="194.5,306.5 193.4,302.5 195.6,302.5" fill="#d46a3a"/>
<text x="192.5" y="264.0" font-size="10.8" fill="#d46a3a" text-anchor="middle" transform="rotate(-90 192.5 264.0)" textLength="15.3" lengthAdjust="spacingAndGlyphs" >220</text>
<rect x="160.8" y="245.2" width="11.4" height="10.6" fill="#f6ebe5" stroke="#d46a3a" stroke-width="0.9" />
<text transform="translate(166.5 254.1) scale(0.8 1)" font-size="10.5" fill="#d46a3a" text-anchor="middle" font-style="italic">9</text>
<line x1="213.0" y1="239.6" x2="276.0" y2="239.6" stroke="#d46a3a" stroke-width="0.7"/>
<polygon points="213.0,239.6 217.0,238.5 217.0,240.7" fill="#d46a3a"/>
<polygon points="276.0,239.6 272.0,238.5 272.0,240.7" fill="#d46a3a"/>
<text x="245.0" y="238.0" font-size="10.8" fill="#d46a3a" text-anchor="middle" textLength="15.3" lengthAdjust="spacingAndGlyphs" >165</text>
<line x1="254.4" y1="219.5" x2="254.4" y2="291.8" stroke="#d46a3a" stroke-width="0.7"/>
<polygon points="254.4,219.5 253.3,223.5 255.5,223.5" fill="#d46a3a"/>
<polygon points="254.4,291.8 253.3,287.8 255.5,287.8" fill="#d46a3a"/>
<text x="252.5" y="254.5" font-size="10.8" fill="#d46a3a" text-anchor="middle" transform="rotate(-90 252.5 254.5)" textLength="15.3" lengthAdjust="spacingAndGlyphs" >196</text>
<rect x="219.0" y="261.4" width="11.4" height="10.6" fill="#f6ebe5" stroke="#d46a3a" stroke-width="0.9" />
<text transform="translate(224.7 270.3) scale(0.8 1)" font-size="10.5" fill="#d46a3a" text-anchor="middle" font-style="italic">5</text>
<line x1="307.0" y1="175.6" x2="425.0" y2="175.6" stroke="#d46a3a" stroke-width="0.7"/>
<polygon points="307.0,175.6 311.0,174.5 311.0,176.7" fill="#d46a3a"/>
<polygon points="425.0,175.6 421.0,174.5 421.0,176.7" fill="#d46a3a"/>
<text x="366.0" y="173.5" font-size="10.8" fill="#d46a3a" text-anchor="middle" textLength="15.3" lengthAdjust="spacingAndGlyphs" >307</text>
<line x1="346.4" y1="110.5" x2="346.4" y2="315.0" stroke="#d46a3a" stroke-width="0.7"/>
<polygon points="346.4,110.5 345.3,114.5 347.5,114.5" fill="#d46a3a"/>
<polygon points="346.4,315.0 345.3,311.0 347.5,311.0" fill="#d46a3a"/>
<text x="344.4" y="216.0" font-size="10.8" fill="#d46a3a" text-anchor="middle" transform="rotate(-90 344.4 216.0)" textLength="15.3" lengthAdjust="spacingAndGlyphs" >531</text>
<line x1="346.4" y1="315.0" x2="346.4" y2="393.0" stroke="#d46a3a" stroke-width="0.7"/>
<polygon points="346.4,315.0 345.3,319.0 347.5,319.0" fill="#d46a3a"/>
<polygon points="346.4,393.0 345.3,389.0 347.5,389.0" fill="#d46a3a"/>
<text x="344.4" y="345.0" font-size="10.8" fill="#d46a3a" text-anchor="middle" transform="rotate(-90 344.4 345.0)" textLength="15.3" lengthAdjust="spacingAndGlyphs" >193</text>
<line x1="281.5" y1="238.8" x2="541.0" y2="238.8" stroke="#d46a3a" stroke-width="0.7"/>
<polygon points="281.5,238.8 285.5,237.7 285.5,239.9" fill="#d46a3a"/>
<polygon points="541.0,238.8 537.0,237.7 537.0,239.9" fill="#d46a3a"/>
<text x="411.6" y="237.5" font-size="10.8" fill="#d46a3a" text-anchor="middle" textLength="15.3" lengthAdjust="spacingAndGlyphs" >671</text>
<rect x="426.1" y="249.5" width="11.4" height="10.6" fill="#f6ebe5" stroke="#d46a3a" stroke-width="0.9" />
<text transform="translate(431.8 258.4) scale(0.8 1)" font-size="10.5" fill="#d46a3a" text-anchor="middle" font-style="italic">7</text>
<line x1="503.8" y1="191.5" x2="503.8" y2="336.0" stroke="#d46a3a" stroke-width="0.7"/>
<polygon points="503.8,191.5 502.7,195.5 504.9,195.5" fill="#d46a3a"/>
<polygon points="503.8,336.0 502.7,332.0 504.9,332.0" fill="#d46a3a"/>
<text x="501.8" y="263.0" font-size="10.8" fill="#d46a3a" text-anchor="middle" transform="rotate(-90 501.8 263.0)" textLength="15.3" lengthAdjust="spacingAndGlyphs" >381</text>
<line x1="442.0" y1="121.0" x2="558.0" y2="121.0" stroke="#d46a3a" stroke-width="0.7"/>
<polygon points="442.0,121.0 446.0,119.9 446.0,122.1" fill="#d46a3a"/>
<polygon points="558.0,121.0 554.0,119.9 554.0,122.1" fill="#d46a3a"/>
<text x="500.0" y="119.0" font-size="10.8" fill="#d46a3a" text-anchor="middle" textLength="15.3" lengthAdjust="spacingAndGlyphs" >300</text>
<line x1="503.0" y1="95.2" x2="503.0" y2="172.5" stroke="#d46a3a" stroke-width="0.7"/>
<polygon points="503.0,95.2 501.9,99.2 504.1,99.2" fill="#d46a3a"/>
<polygon points="503.0,172.5 501.9,168.5 504.1,168.5" fill="#d46a3a"/>
<text x="501.0" y="135.0" font-size="10.8" fill="#d46a3a" text-anchor="middle" transform="rotate(-90 501.0 135.0)" textLength="15.3" lengthAdjust="spacingAndGlyphs" >200</text>
<rect x="517.3" y="131.7" width="12.4" height="10.6" fill="#f6ebe5" stroke="#d46a3a" stroke-width="0.9" />
<text transform="translate(523.5 140.6) scale(0.8 1)" font-size="10.5" fill="#d46a3a" text-anchor="middle" font-style="italic">T2</text>
<line x1="180.6" y1="369.0" x2="240.5" y2="369.0" stroke="#d46a3a" stroke-width="0.7"/>
<polygon points="180.6,369.0 184.6,367.9 184.6,370.1" fill="#d46a3a"/>
<polygon points="240.5,369.0 236.5,367.9 236.5,370.1" fill="#d46a3a"/>
<text x="198.0" y="367.0" font-size="10.8" fill="#d46a3a" text-anchor="middle" textLength="15.3" lengthAdjust="spacingAndGlyphs" >222</text>
<line x1="218.5" y1="317.0" x2="218.5" y2="383.0" stroke="#d46a3a" stroke-width="0.7"/>
<polygon points="218.5,317.0 217.4,321.0 219.6,321.0" fill="#d46a3a"/>
<polygon points="218.5,383.0 217.4,379.0 219.6,379.0" fill="#d46a3a"/>
<text x="216.5" y="348.0" font-size="10.8" fill="#d46a3a" text-anchor="middle" transform="rotate(-90 216.5 348.0)" textLength="15.3" lengthAdjust="spacingAndGlyphs" >174</text>
<rect x="222.8" y="351.7" width="11.4" height="10.6" fill="#f6ebe5" stroke="#d46a3a" stroke-width="0.9" />
<text transform="translate(228.5 360.6) scale(0.8 1)" font-size="10.5" fill="#d46a3a" text-anchor="middle" font-style="italic">4</text>
<line x1="244.0" y1="369.0" x2="305.8" y2="369.0" stroke="#d46a3a" stroke-width="0.7"/>
<polygon points="244.0,369.0 248.0,367.9 248.0,370.1" fill="#d46a3a"/>
<polygon points="305.8,369.0 301.8,367.9 301.8,370.1" fill="#d46a3a"/>
<text x="275.0" y="367.0" font-size="10.8" fill="#d46a3a" text-anchor="middle" textLength="15.3" lengthAdjust="spacingAndGlyphs" >159</text>
<line x1="305.0" y1="369.0" x2="369.0" y2="369.0" stroke="#d46a3a" stroke-width="0.7"/>
<polygon points="305.0,369.0 309.0,367.9 309.0,370.1" fill="#d46a3a"/>
<polygon points="369.0,369.0 365.0,367.9 365.0,370.1" fill="#d46a3a"/>
<text x="340.0" y="367.0" font-size="10.8" fill="#d46a3a" text-anchor="middle" textLength="15.3" lengthAdjust="spacingAndGlyphs" >163</text>
<line x1="346.5" y1="393.0" x2="346.5" y2="500.0" stroke="#d46a3a" stroke-width="0.7"/>
<polygon points="346.5,393.0 345.4,397.0 347.6,397.0" fill="#d46a3a"/>
<polygon points="346.5,500.0 345.4,496.0 347.6,496.0" fill="#d46a3a"/>
<text x="344.5" y="444.0" font-size="10.8" fill="#d46a3a" text-anchor="middle" transform="rotate(-90 344.5 444.0)" textLength="15.3" lengthAdjust="spacingAndGlyphs" >252</text>
<rect x="320.3" y="327.2" width="11.4" height="10.6" fill="#f6ebe5" stroke="#d46a3a" stroke-width="0.9" />
<text transform="translate(326.0 336.1) scale(0.8 1)" font-size="10.5" fill="#d46a3a" text-anchor="middle" font-style="italic">2</text>
<line x1="371.0" y1="369.0" x2="453.5" y2="369.0" stroke="#d46a3a" stroke-width="0.7"/>
<polygon points="371.0,369.0 375.0,367.9 375.0,370.1" fill="#d46a3a"/>
<polygon points="453.5,369.0 449.5,367.9 449.5,370.1" fill="#d46a3a"/>
<text x="413.0" y="367.0" font-size="10.8" fill="#d46a3a" text-anchor="middle" textLength="15.3" lengthAdjust="spacingAndGlyphs" >204</text>
<line x1="446.5" y1="324.5" x2="446.5" y2="393.0" stroke="#d46a3a" stroke-width="0.7"/>
<polygon points="446.5,324.5 445.4,328.5 447.6,328.5" fill="#d46a3a"/>
<polygon points="446.5,393.0 445.4,389.0 447.6,389.0" fill="#d46a3a"/>
<text x="444.5" y="356.5" font-size="10.8" fill="#d46a3a" text-anchor="middle" transform="rotate(-90 444.5 356.5)" textLength="15.3" lengthAdjust="spacingAndGlyphs" >181</text>
<rect x="416.1" y="376.7" width="11.4" height="10.6" fill="#f6ebe5" stroke="#d46a3a" stroke-width="0.9" />
<text transform="translate(421.8 385.6) scale(0.8 1)" font-size="10.5" fill="#d46a3a" text-anchor="middle" font-style="italic">8</text>
<line x1="218.6" y1="389.6" x2="218.6" y2="500.0" stroke="#d46a3a" stroke-width="0.7"/>
<polygon points="218.6,389.6 217.5,393.6 219.7,393.6" fill="#d46a3a"/>
<polygon points="218.6,500.0 217.5,496.0 219.7,496.0" fill="#d46a3a"/>
<text x="216.6" y="444.0" font-size="10.8" fill="#d46a3a" text-anchor="middle" transform="rotate(-90 216.6 444.0)" textLength="15.3" lengthAdjust="spacingAndGlyphs" >288</text>
<line x1="153.5" y1="462.6" x2="296.7" y2="462.6" stroke="#d46a3a" stroke-width="0.7"/>
<polygon points="153.5,462.6 157.5,461.5 157.5,463.7" fill="#d46a3a"/>
<polygon points="296.7,462.6 292.7,461.5 292.7,463.7" fill="#d46a3a"/>
<text x="227.6" y="460.6" font-size="10.8" fill="#d46a3a" text-anchor="middle" textLength="15.3" lengthAdjust="spacingAndGlyphs" >369</text>
<rect x="193.8" y="404.7" width="11.4" height="10.6" fill="#f6ebe5" stroke="#d46a3a" stroke-width="0.9" />
<text transform="translate(199.5 413.6) scale(0.8 1)" font-size="10.5" fill="#d46a3a" text-anchor="middle" font-style="italic">3</text>
<line x1="305.8" y1="463.0" x2="392.0" y2="463.0" stroke="#d46a3a" stroke-width="0.7"/>
<polygon points="305.8,463.0 309.8,461.9 309.8,464.1" fill="#d46a3a"/>
<polygon points="392.0,463.0 388.0,461.9 388.0,464.1" fill="#d46a3a"/>
<text x="350.0" y="461.0" font-size="10.8" fill="#d46a3a" text-anchor="middle" textLength="15.3" lengthAdjust="spacingAndGlyphs" >223</text>
<rect x="316.3" y="422.7" width="11.4" height="10.6" fill="#f6ebe5" stroke="#d46a3a" stroke-width="0.9" />
<text transform="translate(322.0 431.6) scale(0.8 1)" font-size="10.5" fill="#d46a3a" text-anchor="middle" font-style="italic">1</text>
<line x1="406.0" y1="462.6" x2="540.0" y2="462.6" stroke="#d46a3a" stroke-width="0.7"/>
<polygon points="406.0,462.6 410.0,461.5 410.0,463.7" fill="#d46a3a"/>
<polygon points="540.0,462.6 536.0,461.5 536.0,463.7" fill="#d46a3a"/>
<text x="474.0" y="461.6" font-size="10.8" fill="#d46a3a" text-anchor="middle" textLength="15.3" lengthAdjust="spacingAndGlyphs" >349</text>
<line x1="528.0" y1="351.5" x2="528.0" y2="633.0" stroke="#d46a3a" stroke-width="0.7"/>
<polygon points="528.0,351.5 526.9,355.5 529.1,355.5" fill="#d46a3a"/>
<polygon points="528.0,633.0 526.9,629.0 529.1,629.0" fill="#d46a3a"/>
<text x="525.5" y="490.0" font-size="10.8" fill="#d46a3a" text-anchor="middle" transform="rotate(-90 525.5 490.0)" textLength="15.3" lengthAdjust="spacingAndGlyphs" >732</text>
<rect x="469.5" y="438.0" width="12.0" height="10.6" fill="#f6ebe5" stroke="#d46a3a" stroke-width="0.9" />
<text transform="translate(475.5 446.9) scale(0.8 1)" font-size="10.5" fill="#d46a3a" text-anchor="middle" font-style="italic">10</text>
<line x1="299.0" y1="576.5" x2="384.8" y2="576.5" stroke="#d46a3a" stroke-width="0.7"/>
<polygon points="299.0,576.5 303.0,575.4 303.0,577.6" fill="#d46a3a"/>
<polygon points="384.8,576.5 380.8,575.4 380.8,577.6" fill="#d46a3a"/>
<text x="340.0" y="574.5" font-size="10.8" fill="#d46a3a" text-anchor="middle" textLength="15.3" lengthAdjust="spacingAndGlyphs" >220</text>
<line x1="346.5" y1="517.0" x2="346.5" y2="581.5" stroke="#d46a3a" stroke-width="0.7"/>
<polygon points="346.5,517.0 345.4,521.0 347.6,521.0" fill="#d46a3a"/>
<polygon points="346.5,581.5 345.4,577.5 347.6,577.5" fill="#d46a3a"/>
<text x="344.5" y="548.0" font-size="10.8" fill="#d46a3a" text-anchor="middle" transform="rotate(-90 344.5 548.0)" textLength="15.3" lengthAdjust="spacingAndGlyphs" >170</text>
<rect x="357.8" y="542.2" width="12.4" height="10.6" fill="#f6ebe5" stroke="#d46a3a" stroke-width="0.9" />
<text transform="translate(364.0 551.1) scale(0.8 1)" font-size="10.5" fill="#d46a3a" text-anchor="middle" font-style="italic">T1</text>
<line x1="106.0" y1="161.0" x2="106.0" y2="204.0" stroke="#d46a3a" stroke-width="0.7"/>
<polygon points="106.0,161.0 104.9,165.0 107.1,165.0" fill="#d46a3a"/>
<polygon points="106.0,204.0 104.9,200.0 107.1,200.0" fill="#d46a3a"/>
<text x="104.0" y="183.0" font-size="10.8" fill="#d46a3a" text-anchor="middle" transform="rotate(-90 104.0 183.0)" textLength="15.3" lengthAdjust="spacingAndGlyphs" >115</text>
<line x1="92.0" y1="199.4" x2="135.5" y2="199.4" stroke="#d46a3a" stroke-width="0.7"/>
<polygon points="92.0,199.4 96.0,198.3 96.0,200.5" fill="#d46a3a"/>
<polygon points="135.5,199.4 131.5,198.3 131.5,200.5" fill="#d46a3a"/>
<text x="117.0" y="197.4" font-size="10.8" fill="#d46a3a" text-anchor="middle" textLength="15.3" lengthAdjust="spacingAndGlyphs" >115</text>
<rect x="118.3" y="168.7" width="12.4" height="10.6" fill="#f6ebe5" stroke="#d46a3a" stroke-width="0.9" />
<text transform="translate(124.5 177.6) scale(0.8 1)" font-size="10.5" fill="#d46a3a" text-anchor="middle" font-style="italic">T3</text>
<text x="127.0" y="159.7" font-size="5.8" fill="#000" text-anchor="middle" textLength="8.1" lengthAdjust="spacingAndGlyphs" >135</text>
<text x="127.0" y="165.9" font-size="5.8" fill="#000" text-anchor="middle" textLength="8.1" lengthAdjust="spacingAndGlyphs" >135</text>
<line x1="121.0" y1="160.6" x2="153.5" y2="160.6" stroke="#111" stroke-width="0.4"/>
<text x="127.5" y="366.5" font-size="5.8" fill="#000" text-anchor="middle" textLength="5.4" lengthAdjust="spacingAndGlyphs" >80</text>
<text x="127.5" y="372.7" font-size="5.8" fill="#000" text-anchor="middle" textLength="8.1" lengthAdjust="spacingAndGlyphs" >135</text>
<line x1="121.5" y1="367.4" x2="153.3" y2="367.4" stroke="#111" stroke-width="0.4"/>
<text x="127.3" y="442.4" font-size="5.8" fill="#000" text-anchor="middle" textLength="8.1" lengthAdjust="spacingAndGlyphs" >180</text>
<text x="127.3" y="448.6" font-size="5.8" fill="#000" text-anchor="middle" textLength="8.1" lengthAdjust="spacingAndGlyphs" >135</text>
<line x1="122.0" y1="443.3" x2="158.5" y2="443.3" stroke="#111" stroke-width="0.4"/>
<text x="115.9" y="331.6" font-size="5.8" fill="#000" text-anchor="middle" transform="rotate(-90 115.9 331.6)" textLength="8.1" lengthAdjust="spacingAndGlyphs" >100</text>
<text x="122.1" y="331.6" font-size="5.8" fill="#000" text-anchor="middle" transform="rotate(-90 122.1 331.6)" textLength="8.1" lengthAdjust="spacingAndGlyphs" >135</text>
<line x1="116.8" y1="303.0" x2="116.8" y2="337.7" stroke="#111" stroke-width="0.5"/>
<text x="84.5" y="165.9" font-size="5.8" fill="#000" text-anchor="middle" textLength="10.8" lengthAdjust="spacingAndGlyphs" >2x15</text>
<text x="84.5" y="172.1" font-size="5.8" fill="#000" text-anchor="middle" textLength="5.4" lengthAdjust="spacingAndGlyphs" >37</text>
<line x1="79.8" y1="166.8" x2="91.5" y2="166.8" stroke="#111" stroke-width="0.4"/>
<text x="448.0" y="159.7" font-size="5.8" fill="#000" text-anchor="middle" textLength="5.4" lengthAdjust="spacingAndGlyphs" >80</text>
<text x="448.0" y="165.9" font-size="5.8" fill="#000" text-anchor="middle" textLength="8.1" lengthAdjust="spacingAndGlyphs" >225</text>
<line x1="430.0" y1="160.6" x2="454.0" y2="160.6" stroke="#111" stroke-width="0.4"/>
<text x="566.0" y="287.8" font-size="5.8" fill="#000" text-anchor="middle" textLength="8.1" lengthAdjust="spacingAndGlyphs" >130</text>
<text x="566.0" y="294.0" font-size="5.8" fill="#000" text-anchor="middle" textLength="8.1" lengthAdjust="spacingAndGlyphs" >225</text>
<line x1="534.5" y1="288.7" x2="572.0" y2="288.7" stroke="#111" stroke-width="0.4"/>
<text x="566.0" y="421.1" font-size="5.8" fill="#000" text-anchor="middle" textLength="8.1" lengthAdjust="spacingAndGlyphs" >130</text>
<text x="566.0" y="427.3" font-size="5.8" fill="#000" text-anchor="middle" textLength="8.1" lengthAdjust="spacingAndGlyphs" >225</text>
<line x1="534.5" y1="422.0" x2="572.0" y2="422.0" stroke="#111" stroke-width="0.4"/>
<text x="564.0" y="132.3" font-size="5.8" fill="#000" text-anchor="middle" textLength="10.8" lengthAdjust="spacingAndGlyphs" >2x15</text>
<text x="564.0" y="138.5" font-size="5.8" fill="#000" text-anchor="middle" textLength="5.4" lengthAdjust="spacingAndGlyphs" >37</text>
<line x1="558.0" y1="133.2" x2="570.0" y2="133.2" stroke="#111" stroke-width="0.4"/>
<text x="367.3" y="95.0" font-size="5.8" fill="#000" text-anchor="middle" transform="rotate(-90 367.3 95.0)" textLength="8.1" lengthAdjust="spacingAndGlyphs" >316</text>
<text x="373.5" y="95.0" font-size="5.8" fill="#000" text-anchor="middle" transform="rotate(-90 373.5 95.0)" textLength="8.1" lengthAdjust="spacingAndGlyphs" >225</text>
<line x1="368.2" y1="84.0" x2="368.2" y2="119.0" stroke="#111" stroke-width="0.6"/>
<text x="490.1" y="164.7" font-size="5.8" fill="#000" text-anchor="middle" transform="rotate(-90 490.1 164.7)" textLength="8.1" lengthAdjust="spacingAndGlyphs" >250</text>
<text x="496.3" y="164.7" font-size="5.8" fill="#000" text-anchor="middle" transform="rotate(-90 496.3 164.7)" textLength="8.1" lengthAdjust="spacingAndGlyphs" >225</text>
<line x1="491.0" y1="157.4" x2="491.0" y2="192.0" stroke="#111" stroke-width="0.6"/>
<text x="498.7" y="89.0" font-size="5.8" fill="#000" text-anchor="middle" transform="rotate(-90 498.7 89.0)" textLength="5.4" lengthAdjust="spacingAndGlyphs" >15</text>
<text x="504.9" y="89.0" font-size="5.8" fill="#000" text-anchor="middle" transform="rotate(-90 504.9 89.0)" textLength="10.8" lengthAdjust="spacingAndGlyphs" >5.12</text>
<line x1="499.6" y1="83.5" x2="499.6" y2="95.6" stroke="#111" stroke-width="0.6"/>
<text x="253.4" y="522.0" font-size="5.8" fill="#000" text-anchor="middle" transform="rotate(-90 253.4 522.0)" textLength="5.4" lengthAdjust="spacingAndGlyphs" >80</text>
<text x="259.6" y="522.0" font-size="5.8" fill="#000" text-anchor="middle" transform="rotate(-90 259.6 522.0)" textLength="8.1" lengthAdjust="spacingAndGlyphs" >225</text>
<line x1="255.0" y1="506.6" x2="255.0" y2="518.0" stroke="#111" stroke-width="0.5"/>
<text x="323.1" y="524.6" font-size="5.8" fill="#000" text-anchor="middle" transform="rotate(-90 323.1 524.6)" textLength="5.4" lengthAdjust="spacingAndGlyphs" >90</text>
<text x="329.3" y="524.6" font-size="5.8" fill="#000" text-anchor="middle" transform="rotate(-90 329.3 524.6)" textLength="8.1" lengthAdjust="spacingAndGlyphs" >220</text>
<line x1="324.0" y1="495.0" x2="324.0" y2="528.5" stroke="#111" stroke-width="0.5"/>
<text x="356.1" y="522.0" font-size="5.8" fill="#000" text-anchor="middle" transform="rotate(-90 356.1 522.0)" textLength="5.4" lengthAdjust="spacingAndGlyphs" >55</text>
<text x="362.3" y="522.0" font-size="5.8" fill="#000" text-anchor="middle" transform="rotate(-90 362.3 522.0)" textLength="8.1" lengthAdjust="spacingAndGlyphs" >225</text>
<line x1="357.0" y1="506.0" x2="357.0" y2="520.0" stroke="#111" stroke-width="0.5"/>
<text x="293.3" y="547.7" font-size="5.8" fill="#000" text-anchor="middle" textLength="10.8" lengthAdjust="spacingAndGlyphs" >2x15</text>
<text x="293.3" y="553.9" font-size="5.8" fill="#000" text-anchor="middle" textLength="5.4" lengthAdjust="spacingAndGlyphs" >37</text>
<line x1="287.0" y1="548.6" x2="299.5" y2="548.6" stroke="#111" stroke-width="0.4"/>
<text x="337.1" y="588.5" font-size="5.8" fill="#000" text-anchor="middle" transform="rotate(-90 337.1 588.5)" textLength="10.8" lengthAdjust="spacingAndGlyphs" >2x15</text>
<text x="343.3" y="588.5" font-size="5.8" fill="#000" text-anchor="middle" transform="rotate(-90 343.3 588.5)" textLength="5.4" lengthAdjust="spacingAndGlyphs" >37</text>
<line x1="338.0" y1="582.6" x2="338.0" y2="594.0" stroke="#111" stroke-width="0.5"/>
<text x="469.9" y="645.5" font-size="5.8" fill="#000" text-anchor="middle" transform="rotate(-90 469.9 645.5)" textLength="8.1" lengthAdjust="spacingAndGlyphs" >250</text>
<text x="476.1" y="645.5" font-size="5.8" fill="#000" text-anchor="middle" transform="rotate(-90 476.1 645.5)" textLength="8.1" lengthAdjust="spacingAndGlyphs" >225</text>
<text x="389.7" y="333.4" font-size="6" fill="#000" text-anchor="middle" textLength="22.0" lengthAdjust="spacingAndGlyphs" >17x18.70</text>
<text x="390.4" y="342.5" font-size="6" fill="#000" text-anchor="middle" textLength="5.0" lengthAdjust="spacingAndGlyphs" >26</text>
<text x="393.8" y="375.0" font-size="5.8" fill="#000" text-anchor="middle" transform="rotate(-90 393.8 375.0)" textLength="8.0" lengthAdjust="spacingAndGlyphs" >225</text>
<text x="161.8" y="295.0" font-size="3.9" fill="#000" text-anchor="middle" textLength="20.0" lengthAdjust="spacingAndGlyphs" >ZASOBNIK</text>
<text x="161.8" y="300.5" font-size="3.9" fill="#000" text-anchor="middle" textLength="11.0" lengthAdjust="spacingAndGlyphs" >C.W.U.</text>
<text x="190.2" y="299.3" font-size="3.9" fill="#000" text-anchor="middle" textLength="13.0" lengthAdjust="spacingAndGlyphs" >KOCIOŁ</text>
<text x="192.0" y="304.6" font-size="3.9" fill="#000" text-anchor="middle" textLength="7.0" lengthAdjust="spacingAndGlyphs" >GAZ</text>
<text x="189.0" y="133.2" font-size="3.6" fill="#000" text-anchor="middle" textLength="21.0" lengthAdjust="spacingAndGlyphs" >ZMYWARKA</text>
<line x1="79.7" y1="26.1" x2="557.7" y2="26.1" stroke="#222" stroke-width="0.9"/>
<polygon points="79.7,26.1 90.7,24.4 90.7,27.8" fill="#000"/>
<polygon points="557.7,26.1 546.7,24.4 546.7,27.8" fill="#000"/>
<text transform="translate(319.0 24.3) scale(0.7 1)" x="0.75" y="0" font-size="16" fill="#111" text-anchor="middle" letter-spacing="1.5">1235</text>
<line x1="79.7" y1="56.6" x2="557.7" y2="56.6" stroke="#222" stroke-width="0.9"/>
<polygon points="79.7,56.6 90.7,54.9 90.7,58.3" fill="#000"/>
<polygon points="557.7,56.6 546.7,54.9 546.7,58.3" fill="#000"/>
<polygon points="134.0,56.6 124.0,55.0 124.0,58.2" fill="#000"/>
<polygon points="138.4,56.6 148.4,55.0 148.4,58.2" fill="#000"/>
<polygon points="439.3,56.6 429.3,55.0 429.3,58.2" fill="#000"/>
<polygon points="443.7,56.6 453.7,55.0 453.7,58.2" fill="#000"/>
<text transform="translate(108.0 54.5) scale(0.7 1)" x="0.75" y="0" font-size="16" fill="#111" text-anchor="middle" letter-spacing="1.5">147</text>
<text transform="translate(289.5 54.5) scale(0.7 1)" x="0.75" y="0" font-size="16" fill="#111" text-anchor="middle" letter-spacing="1.5">788</text>
<text transform="translate(499.5 54.5) scale(0.7 1)" x="0.75" y="0" font-size="16" fill="#111" text-anchor="middle" letter-spacing="1.5">300</text>
<line x1="80.3" y1="798.0" x2="557.7" y2="798.0" stroke="#222" stroke-width="0.9"/>
<polygon points="80.3,798.0 91.3,796.3 91.3,799.7" fill="#000"/>
<polygon points="557.7,798.0 546.7,796.3 546.7,799.7" fill="#000"/>
<polygon points="133.9,798.0 123.9,796.4 123.9,799.6" fill="#000"/>
<polygon points="138.3,798.0 148.3,796.4 148.3,799.6" fill="#000"/>
<polygon points="382.0,798.0 372.0,796.4 372.0,799.6" fill="#000"/>
<polygon points="386.4,798.0 396.4,796.4 396.4,799.6" fill="#000"/>
<text transform="translate(108.0 795.4) scale(0.7 1)" x="0.75" y="0" font-size="16" fill="#111" text-anchor="middle" letter-spacing="1.5">147</text>
<text transform="translate(259.5 795.4) scale(0.7 1)" x="0.75" y="0" font-size="16" fill="#111" text-anchor="middle" letter-spacing="1.5">640</text>
<text transform="translate(471.0 795.4) scale(0.7 1)" x="0.75" y="0" font-size="16" fill="#111" text-anchor="middle" letter-spacing="1.5">448</text>
<line x1="27.6" y1="96.2" x2="27.6" y2="651.8" stroke="#222" stroke-width="0.9"/>
<polygon points="27.6,96.2 25.9,107.2 29.3,107.2" fill="#000"/>
<polygon points="27.6,651.8 25.9,640.8 29.3,640.8" fill="#000"/>
<polygon points="27.6,203.8 26.0,193.3 29.2,193.3" fill="#000"/>
<polygon points="27.6,205.0 26.0,215.5 29.2,215.5" fill="#000"/>
<polygon points="27.6,323.8 26.0,313.3 29.2,313.3" fill="#000"/>
<polygon points="27.6,325.0 26.0,335.5 29.2,335.5" fill="#000"/>
<polygon points="27.6,515.6 26.0,505.1 29.2,505.1" fill="#000"/>
<polygon points="27.6,516.8 26.0,527.3 29.2,527.3" fill="#000"/>
<text transform="translate(25.7 150.0) rotate(-90) scale(0.7 1)" x="0.75" y="0" font-size="16" fill="#111" text-anchor="middle" letter-spacing="1.5">282</text>
<text transform="translate(25.7 264.5) rotate(-90) scale(0.7 1)" x="0.75" y="0" font-size="16" fill="#111" text-anchor="middle" letter-spacing="1.5">308</text>
<text transform="translate(25.7 420.0) rotate(-90) scale(0.7 1)" x="0.75" y="0" font-size="16" fill="#111" text-anchor="middle" letter-spacing="1.5">498</text>
<text transform="translate(25.7 584.7) rotate(-90) scale(0.7 1)" x="0.75" y="0" font-size="16" fill="#111" text-anchor="middle" letter-spacing="1.5">348</text>
<line x1="619.7" y1="96.1" x2="619.7" y2="651.8" stroke="#222" stroke-width="0.9"/>
<polygon points="619.7,96.1 618.0,107.1 621.4,107.1" fill="#000"/>
<polygon points="619.7,651.8 618.0,640.8 621.4,640.8" fill="#000"/>
<polygon points="619.7,172.5 618.1,162.0 621.3,162.0" fill="#000"/>
<polygon points="619.7,173.7 618.1,184.2 621.3,184.2" fill="#000"/>
<text transform="translate(617.9 134.2) rotate(-90) scale(0.7 1)" x="0.75" y="0" font-size="16" fill="#111" text-anchor="middle" letter-spacing="1.5">200</text>
<text transform="translate(617.9 412.4) rotate(-90) scale(0.7 1)" x="0.75" y="0" font-size="16" fill="#111" text-anchor="middle" letter-spacing="1.5">1236</text>
<line x1="644.9" y1="96.1" x2="644.9" y2="651.8" stroke="#222" stroke-width="0.9"/>
<polygon points="644.9,96.1 643.2,107.1 646.6,107.1" fill="#000"/>
<polygon points="644.9,651.8 643.2,640.8 646.6,640.8" fill="#000"/>
<text transform="translate(643.1 373.5) rotate(-90) scale(0.7 1)" x="0.75" y="0" font-size="16" fill="#111" text-anchor="middle" letter-spacing="1.5">1436</text>
</svg>
</body></html>
